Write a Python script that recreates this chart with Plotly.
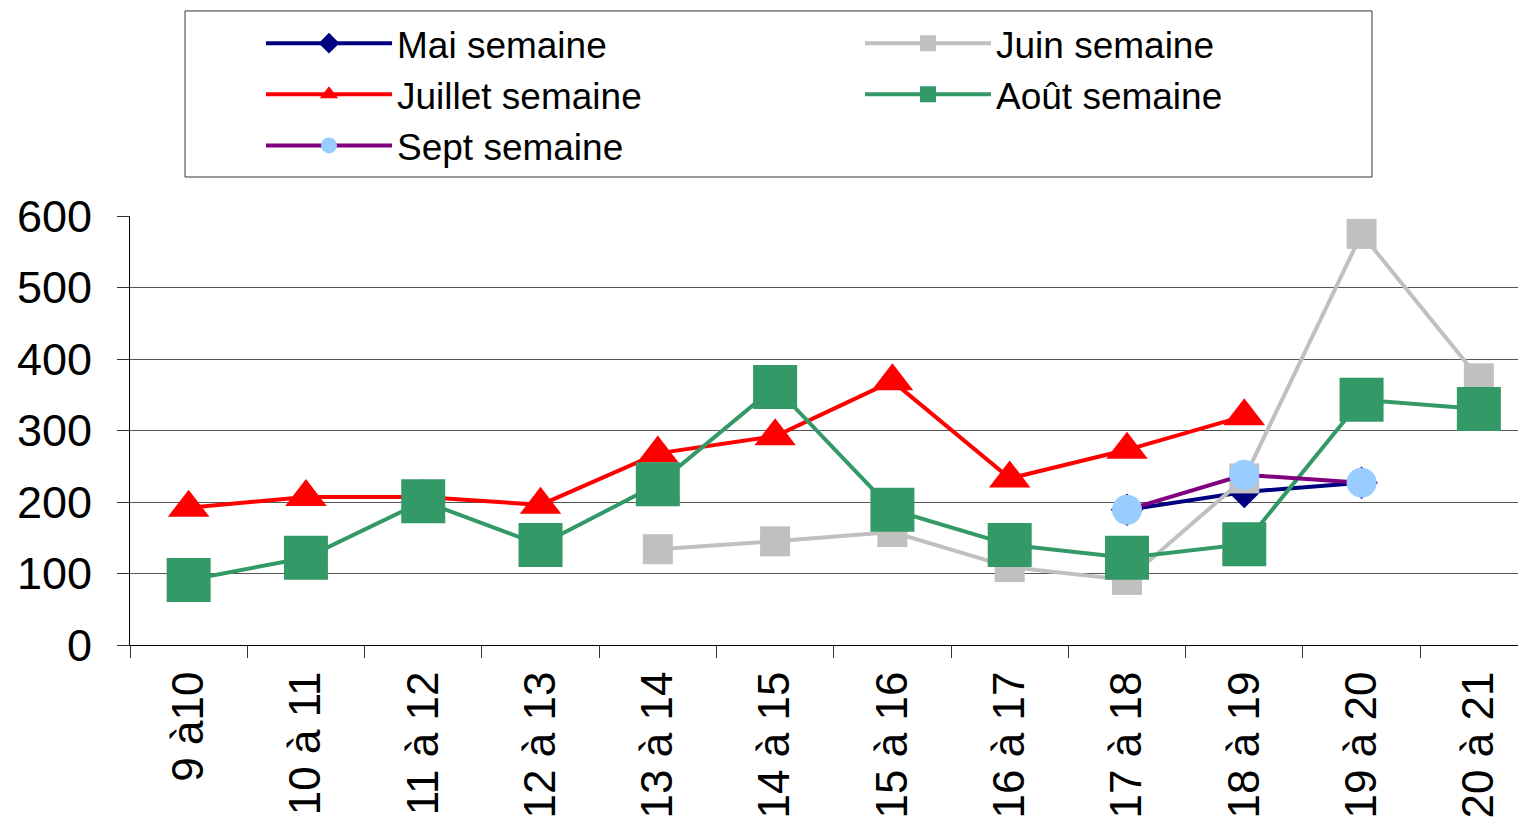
import plotly.graph_objects as go

categories = ["9 à10", "10 à 11", "11 à 12", "12 à 13", "13 à 14", "14 à 15",
              "15 à 16", "16 à 17", "17 à 18", "18 à 19", "19 à 20", "20 à 21"]

mai = [None, None, None, None, None, None, None, None, 189, 214, 227, None]
juin = [None, None, None, None, 134, 145, 158, 109, 91, 233, 575, 373]
juillet = [192, 207, 207, 196, 268, 292, 369, 233, 273, 320, None, None]
aout = [91, 122, 201, 140, 225, 361, 189, 140, 122, 141, 343, 330]
sept = [None, None, None, None, None, None, None, None, 189, 238, 227, None]

series = [
    ("Mai semaine", mai, "#000080", "#000080", "diamond", 25),
    ("Juin semaine", juin, "#C0C0C0", "#C0C0C0", "square", 30),
    ("Juillet semaine", juillet, "#FF0000", "#FF0000", "triangle-up", 36),
    ("Août semaine", aout, "#339966", "#339966", "square", 44),
    ("Sept semaine", sept, "#800080", "#99CCFF", "circle", 30),
]

fig = go.Figure()
for name, vals, lc, mc, sym, sz in series:
    fig.add_trace(go.Scatter(
        x=categories, y=vals, name=name, mode="lines+markers",
        line=dict(color=lc, width=4),
        marker=dict(color=mc, symbol=sym, size=sz, line=dict(width=0)),
        connectgaps=False,
    ))

font_family = "Liberation Sans, Arial, sans-serif"

fig.update_layout(
    width=1526, height=840,
    margin=dict(l=122, r=0, t=208, b=203, autoexpand=False),
    paper_bgcolor="white", plot_bgcolor="white",
    font=dict(family=font_family, size=44, color="black"),
    showlegend=True,
    legend=dict(
        orientation="h", x=0.0933, y=1.474, xanchor="left", yanchor="top",
        font=dict(family=font_family, size=37, color="black"),
        borderwidth=0, bgcolor="rgba(0,0,0,0)",
        itemwidth=126, entrywidth=458, entrywidthmode="pixels",
        traceorder="normal",
    ),
    shapes=[dict(type="rect", xref="paper", yref="paper",
                 x0=0.0392, x1=0.8846, y0=1.0909, y1=1.478,
                 line=dict(color="#333333", width=1), fillcolor="rgba(0,0,0,0)",
                 layer="below")],
)

fig.update_xaxes(
    type="category", range=[-0.5, 11.47],
    tickson="boundaries", ticks="outside", ticklen=12, tickcolor="#333333", tickwidth=1,
    showgrid=False, showline=True, linecolor="black", linewidth=1,
    tickangle=-90, tickfont=dict(size=44), automargin=False, ticklabelstandoff=8,
)
fig.update_yaxes(
    range=[0, 600], dtick=100, tick0=0,
    ticks="outside", ticklen=12, tickcolor="#333333", tickwidth=1,
    showgrid=True, gridcolor="#555555", gridwidth=1,
    showline=True, linecolor="black", linewidth=1,
    zeroline=True, zerolinecolor="black", zerolinewidth=1,
    tickfont=dict(size=45), automargin=False, ticklabelstandoff=16,
)

fig.write_html("out.html")
